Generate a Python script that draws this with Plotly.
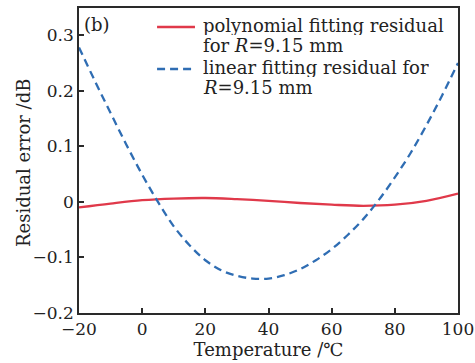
import plotly.graph_objects as go

temperature = [-20, -15, -10, -5, 0, 5, 10, 15, 20, 25, 30, 35, 40, 45, 50, 55, 60, 65, 70, 75, 80, 85, 90, 95, 100]
linear_residual = [0.278, 0.218, 0.160, 0.103, 0.049, 0.000, -0.044, -0.078, -0.105, -0.123, -0.133, -0.138,
                   -0.138, -0.132, -0.121, -0.105, -0.085, -0.060, -0.031, 0.004, 0.044, 0.088, 0.138, 0.192, 0.250]
poly_temperature = [-20, -10, 0, 10, 20, 30, 40, 50, 60, 70, 80, 90, 100]
poly_residual = [-0.010, -0.003, 0.003, 0.006, 0.007, 0.005, 0.002, -0.002, -0.005, -0.007, -0.005, 0.002, 0.015]

x_ticks = [-20, 0, 20, 40, 60, 80, 100]
y_ticks = [-0.2, -0.1, 0, 0.1, 0.2, 0.3]
y_tick_labels = ["−0.2", "−0.1", "0", "0.1", "0.2", "0.3"]

legend_lines = [
    ["polynomial fitting residual", "for <i>R</i>=9.15 mm"],
    ["linear fitting residual for", "<i>R</i>=9.15 mm"],
]

FONT = "DejaVu Serif"
AX = "#2a2a2a"
TXT = "#222"
RED = "#e0394a"
BLUE = "#2f6db3"
DASH = "8px,5px"

fig = go.Figure()
fig.add_trace(go.Scatter(
    x=poly_temperature, y=poly_residual, mode="lines", line_shape="spline",
    line=dict(color=RED, width=2.3), showlegend=False,
    name="polynomial fitting residual for R=9.15 mm"))
fig.add_trace(go.Scatter(
    x=temperature, y=linear_residual, mode="lines", line_shape="spline",
    line=dict(color=BLUE, width=2.3, dash=DASH), showlegend=False,
    name="linear fitting residual for R=9.15 mm"))

# legend drawn with annotations/shapes for tight line spacing
text_x = 0.3245
sample_x = (0.206, 0.306)
line_y = [(0.9443, 0.8787), (0.8066, 0.741)]
sample_y = [0.9377, 0.80]
styles = [dict(color=RED, width=2.3), dict(color=BLUE, width=2.3, dash=DASH)]
for lines, ys, sy, st in zip(legend_lines, line_y, sample_y, styles):
    for txt, y in zip(lines, ys):
        fig.add_annotation(x=text_x, y=y, xref="paper", yref="paper", xanchor="left", yanchor="middle",
                           text=txt, showarrow=False, height=20, borderpad=0,
                           font=dict(family=FONT, size=18, color=TXT))
    fig.add_shape(type="line", xref="paper", yref="paper", x0=sample_x[0], x1=sample_x[1],
                  y0=sy, y1=sy, line=st)

fig.add_annotation(x=0.0106, y=0.9443, xref="paper", yref="paper", xanchor="left", yanchor="middle",
                   text="(b)", showarrow=False, borderpad=0,
                   font=dict(family=FONT, size=18, color=TXT))

# y-axis title placed close to tick labels as in the reference
fig.add_annotation(x=-0.1451, y=0.492, xref="paper", yref="paper", xanchor="center", yanchor="middle",
                   text="Residual error /dB", textangle=-90, showarrow=False, borderpad=0,
                   font=dict(family=FONT, size=18, color=TXT))

fig.update_layout(
    width=475, height=363,
    margin=dict(l=79, r=17, t=8, b=50),
    paper_bgcolor="white", plot_bgcolor="white",
    font=dict(family=FONT, size=17, color=TXT),
    showlegend=False,
    xaxis=dict(range=[-20, 100], tickvals=x_ticks, ticks="inside", ticklen=5, tickwidth=1.5,
               tickcolor=AX, showline=True, linecolor=AX, linewidth=1.5, mirror=True,
               showgrid=False, zeroline=False, automargin=False, ticklabeloverflow="allow",
               title=dict(text="Temperature /℃", font=dict(family=FONT, size=18), standoff=0),
               tickfont=dict(family=FONT, size=17)),
    yaxis=dict(range=[-0.2, 0.349], tickvals=y_ticks, ticktext=y_tick_labels, ticks="inside",
               ticklen=5, tickwidth=1.5, tickcolor=AX, showline=True, linecolor=AX, linewidth=1.5,
               mirror=True, showgrid=False, zeroline=False, automargin=False,
               ticklabeloverflow="allow", tickfont=dict(family=FONT, size=17)),
)

fig.write_html("out.html")
